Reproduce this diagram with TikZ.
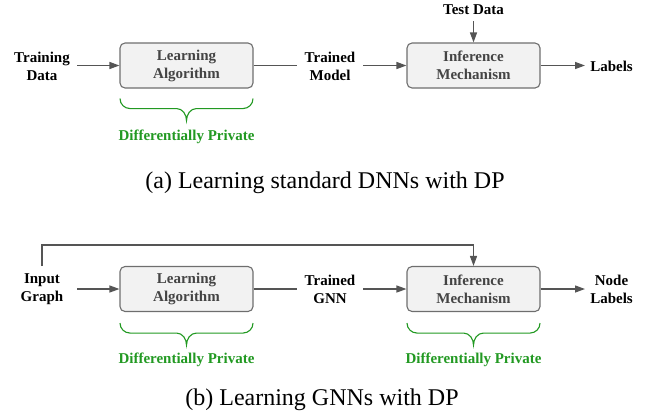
\documentclass[tikz,border=0pt]{standalone}
\usepackage{fontspec}
\IfFontExistsTF{LiberationSerif-Regular.ttf}{%
  \setmainfont{LiberationSerif}[Extension=.ttf,UprightFont=*-Regular,BoldFont=*-Bold,ItalicFont=*-Italic,BoldItalicFont=*-BoldItalic]}{%
  \setmainfont{Liberation Serif}}
\usetikzlibrary{arrows.meta,calc}
\definecolor{dpgreen}{RGB}{34,153,34}
\definecolor{linegray}{RGB}{85,85,85}
\definecolor{boxgray}{RGB}{242,242,242}
\definecolor{boxedge}{RGB}{110,110,110}
\definecolor{boxtext}{RGB}{68,68,68}
\begin{document}
\begin{tikzpicture}[x=1pt,y=-1pt,
  lbl/.style={font=\fontsize{15}{18}\selectfont\bfseries, align=center, inner sep=0pt},
  box/.style={draw=boxedge, fill=boxgray, line width=1.1pt, rounded corners=5pt,
    minimum width=133pt, minimum height=45pt, inner sep=0pt,
    font=\fontsize{15}{18}\selectfont\bfseries, text=boxtext, align=center},
  conn/.style={draw=linegray, line width=1.3pt},
  arr/.style={conn, -{Triangle[length=10pt,width=7pt]}},
  dptext/.style={font=\fontsize{15}{18}\selectfont\bfseries, text=dpgreen, inner sep=0pt},
  captxt/.style={font=\fontsize{24}{28}\selectfont, inner sep=0pt},
  dpbrace/.pic={\draw[dpgreen, line width=1.1pt]
    (-66.5,0) to[out=-90,in=180] (-56.5,10) -- (-10,10) to[out=0,in=90] (0,22)
    to[out=90,in=180] (10,10) -- (56.5,10) to[out=0,in=-90] (66.5,0);}
]
\useasboundingbox (0,0) rectangle (652,416);

% ---------- (a) ----------
\node[lbl] (td) at (42,66) {Training\\Data};
\node[box] (la) at (186.5,65.5) {Learning\\Algorithm};
\node[lbl] (tm) at (330,66) {Trained\\Model};
\node[box] (im) at (473.5,65.5) {Inference\\Mechanism};
\node[lbl] (lb) at (611.5,66) {Labels};
\node[lbl] (test) at (473.5,10) {Test Data};

\coordinate (tde) at (77,65.5);
\coordinate (tmw) at (297,65.5);
\coordinate (tme) at (363,65.5);
\coordinate (lbw) at (585,65.5);
\coordinate (tds) at (473.5,21);
\draw[arr] (tde) -- (la.west);
\draw[conn] (la.east) -- (tmw);
\draw[arr] (tme) -- (im.west);
\draw[arr] (im.east) -- (lbw);
\draw[arr] (tds) -- (im.north);

\pic at ($(la.south)+(0,10)$) {dpbrace};
\node[dptext] (dp1) at (186.5,137) {Differentially Private};

\node[captxt] (capa) at (325,183) {(a) Learning standard DNNs with DP};

% ---------- (b) ----------
\node[lbl] (ig) at (42,289) {Input\\Graph};
\node[box] (lb2) at (186.5,289) {Learning\\Algorithm};
\node[lbl] (tg) at (330,289) {Trained\\GNN};
\node[box] (im2) at (473.5,289) {Inference\\Mechanism};
\node[lbl] (nl) at (611.5,289) {Node\\Labels};

\coordinate (ige) at (77,289);
\coordinate (tgw) at (297,289);
\coordinate (tge) at (363,289);
\coordinate (nlw) at (585,289);
\coordinate (igtop) at (42,266);
\coordinate (loop) at (42,245);
\draw[arr] (ige) -- (lb2.west);
\draw[conn] (lb2.east) -- (tgw);
\draw[arr] (tge) -- (im2.west);
\draw[arr] (im2.east) -- (nlw);
\draw[arr] (igtop) -- (loop) -| (im2.north);

\pic at ($(lb2.south)+(0,11)$) {dpbrace};
\pic at ($(im2.south)+(0,11)$) {dpbrace};
\node[dptext] (dp2) at (186.5,360) {Differentially Private};
\node[dptext] (dp3) at (473.5,360) {Differentially Private};

\node[captxt] (capb) at (322,400) {(b) Learning GNNs with DP};
\end{tikzpicture}
\end{document}
